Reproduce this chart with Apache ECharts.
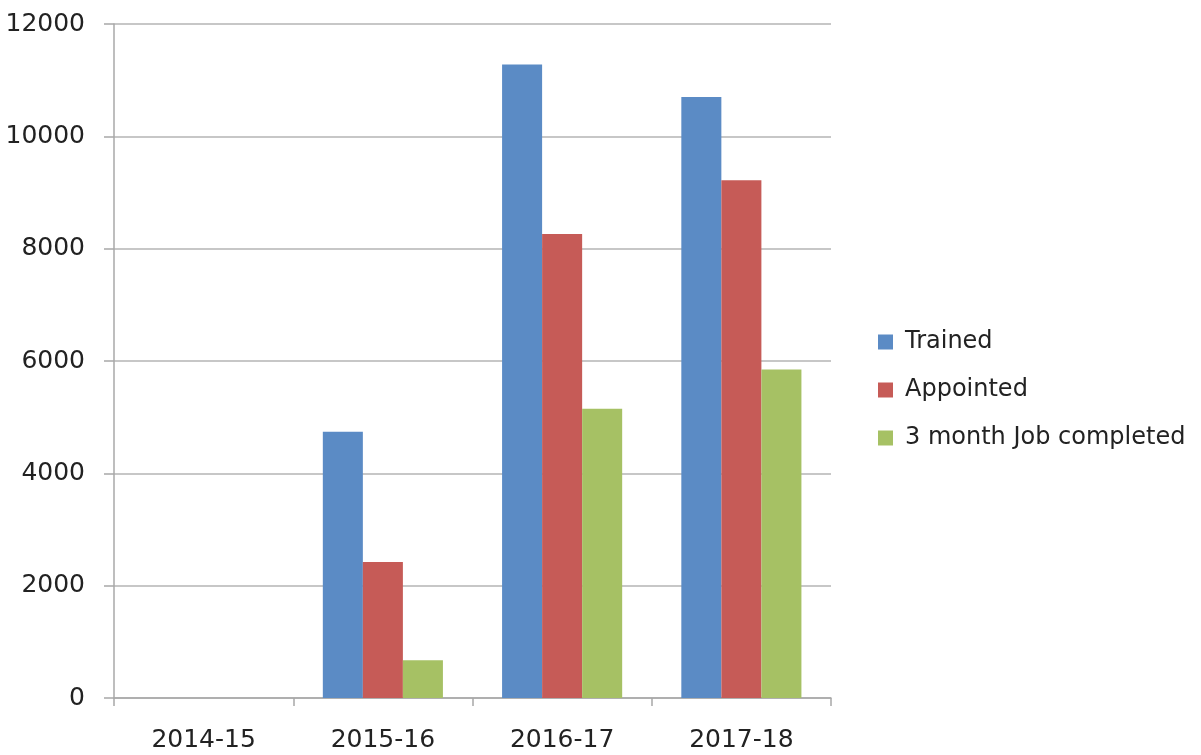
<!DOCTYPE html>
<html>
<head>
<meta charset="utf-8">
<script src="https://cdn.jsdelivr.net/npm/echarts@6/dist/echarts.min.js"></script>
<style>
  html, body { margin: 0; padding: 0; background: #fff; }
  #chart { width: 1201px; height: 755px; }
</style>
</head>
<body>
<div id="chart"></div>
<script>
  const years = ['2014-15', '2015-16', '2016-17', '2017-18']
  const trained = [0, 4740, 11280, 10700]
  const appointed = [0, 2420, 8260, 9220]
  const jobCompleted = [0, 670, 5150, 5850]

  const font = 'DejaVu Sans'
  const axisGray = '#a8a8a8'

  const chart = echarts.init(document.getElementById('chart'))

  const barSeries = (name, data, color) => ({
    name: name,
    type: 'bar',
    data: data,
    barGap: '0%',
    barCategoryGap: '33%',
    itemStyle: { color: color }
  })

  chart.setOption({
    animation: false,
    backgroundColor: '#fff',
    grid: { left: 114, right: 370, top: 24, bottom: 57 },
    legend: {
      orient: 'vertical',
      left: 878,
      top: 330,
      padding: 0,
      itemWidth: 15,
      itemHeight: 15,
      itemGap: 24,
      icon: 'rect',
      textStyle: { fontFamily: font, fontSize: 24, color: '#222', lineHeight: 24, padding: [0, 0, 0, 7] },
      data: ['Trained', 'Appointed', '3 month Job completed']
    },
    xAxis: {
      type: 'category',
      data: years,
      axisLine: { lineStyle: { color: axisGray, width: 1.5 } },
      axisTick: { show: true, length: 8, lineStyle: { color: axisGray, width: 1.5 } },
      axisLabel: { fontFamily: font, fontSize: 25, color: '#222', margin: 30 }
    },
    yAxis: {
      type: 'value',
      min: 0,
      max: 12000,
      interval: 2000,
      axisLine: { show: true, lineStyle: { color: axisGray, width: 1.5 } },
      axisTick: { show: true, length: 10, lineStyle: { color: axisGray, width: 1.5 } },
      splitLine: { lineStyle: { color: '#b4b4b4', width: 1.5 } },
      axisLabel: { fontFamily: font, fontSize: 25, color: '#222', margin: 29, formatter: v => String(v) }
    },
    series: [
      barSeries('Trained', trained, '#5b8bc5'),
      barSeries('Appointed', appointed, '#c65b57'),
      barSeries('3 month Job completed', jobCompleted, '#a6c164')
    ]
  })
</script>
</body>
</html>
